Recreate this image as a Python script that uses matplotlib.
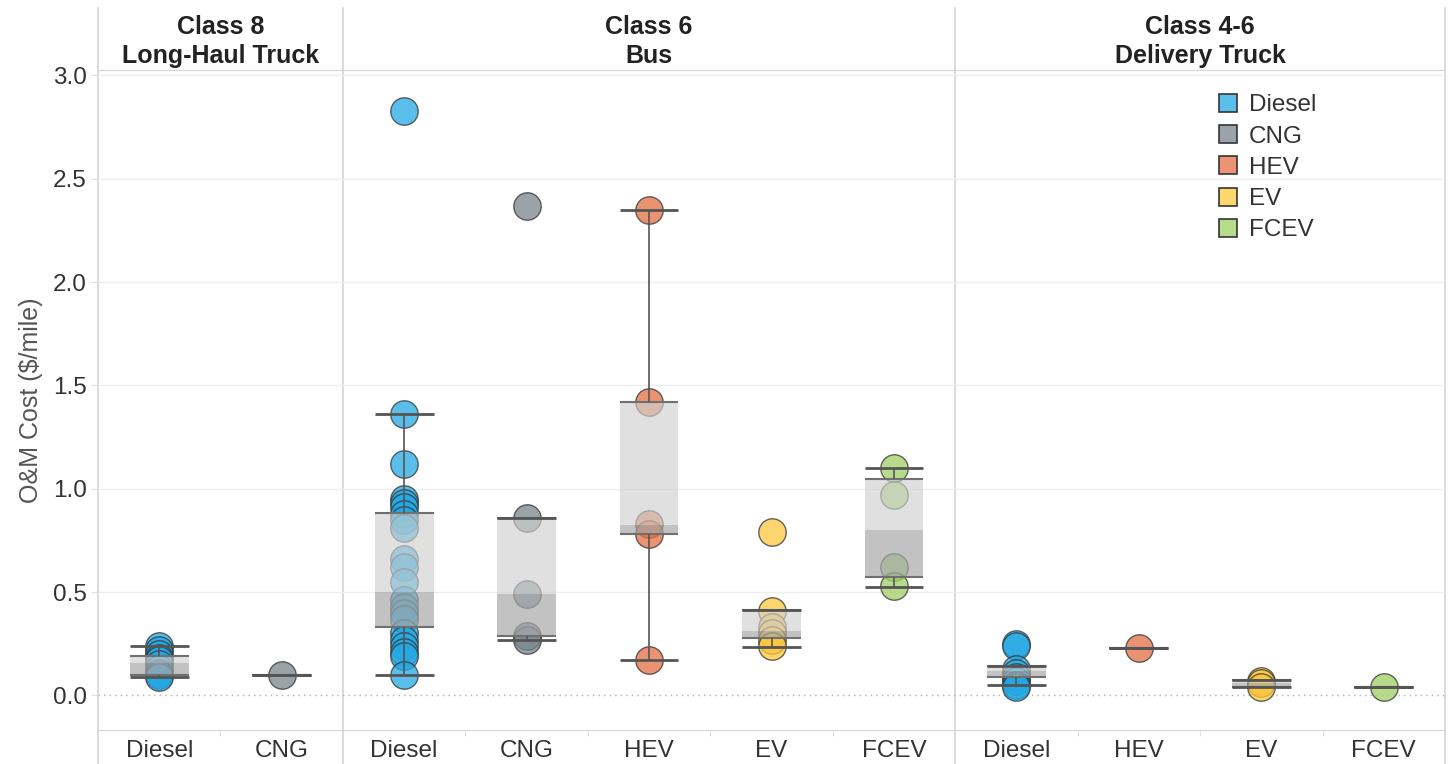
import matplotlib.pyplot as plt
from matplotlib.patches import Rectangle
from matplotlib.lines import Line2D
import numpy as np

plt.rcParams['font.family'] = ['Liberation Sans', 'DejaVu Sans']

# panels and their categories (left to right)
panels = ['Class 8\nLong-Haul Truck', 'Class 6\nBus', 'Class 4-6\nDelivery Truck']
panel_sizes = [2, 5, 4]
categories = ['Diesel', 'CNG',
              'Diesel', 'CNG', 'HEV', 'EV', 'FCEV',
              'Diesel', 'HEV', 'EV', 'FCEV']

# O&M cost ($/mile) of each vehicle
c8_diesel = [0.24, 0.22, 0.20, 0.18, 0.17, 0.15, 0.13, 0.11, 0.10, 0.09]
c8_cng = [0.10]
bus_diesel = [2.83, 1.36, 1.12, 0.95, 0.93, 0.91, 0.88, 0.85, 0.81, 0.66, 0.62,
              0.55, 0.46, 0.43, 0.40, 0.37, 0.30, 0.27, 0.24, 0.21, 0.19, 0.10]
bus_cng = [2.37, 0.86, 0.49, 0.29, 0.27]
bus_hev = [2.35, 1.42, 0.83, 0.78, 0.17]
bus_ev = [0.79, 0.41, 0.33, 0.30, 0.27, 0.24]
bus_fcev = [1.10, 0.97, 0.62, 0.53]
dt_diesel = [0.25, 0.24, 0.13, 0.11, 0.09, 0.07, 0.05, 0.04]
dt_hev = [0.23]
dt_ev = [0.07, 0.06, 0.04]
dt_fcev = [0.04]

series = [c8_diesel, c8_cng, bus_diesel, bus_cng, bus_hev, bus_ev, bus_fcev,
          dt_diesel, dt_hev, dt_ev, dt_fcev]

# box plot stats as drawn in the chart
box_lo = [0.09, 0.10, 0.10, 0.27, 0.17, 0.235, 0.525, 0.05, 0.23, 0.04, 0.04]
box_q1 = [0.10, 0.10, 0.33, 0.29, 0.78, 0.28, 0.575, 0.09, 0.23, 0.04, 0.04]
box_med = [0.155, 0.10, 0.50, 0.49, 0.825, 0.31, 0.80, 0.118, 0.23, 0.06, 0.04]
box_q3 = [0.19, 0.10, 0.885, 0.86, 1.42, 0.415, 1.045, 0.143, 0.23, 0.075, 0.04]
box_hi = [0.24, 0.10, 1.36, 0.86, 2.35, 0.415, 1.10, 0.143, 0.23, 0.075, 0.04]

fuel_colors = {'Diesel': '#23A8E4', 'CNG': '#78848B', 'HEV': '#E46F44',
               'EV': '#FCC83D', 'FCEV': '#9FD065'}
legend_colors = {'Diesel': '#5ABEEB', 'CNG': '#9AA3A8', 'HEV': '#EB9373',
                 'EV': '#FDD66E', 'FCEV': '#B7DC8C'}

fig = plt.figure(figsize=(14.5, 7.64), dpi=100)
ax = fig.add_axes([98 / 1450, 34 / 764, 1347 / 1450, 660 / 764])
ax.set_xlim(-0.5, 10.5)
ax.set_ylim(-0.167, 3.026)

line_col = '#d4d4d4'
for s in ['left', 'right']:
    ax.spines[s].set_visible(False)
ax.spines['top'].set_color(line_col)
ax.spines['bottom'].set_color(line_col)

# full height borders and panel separators
edges = np.cumsum([0] + panel_sizes) - 0.5
for x in edges:
    ax.axvline(x, ymin=-0.052, ymax=1.094, color=line_col, lw=1.2, clip_on=False, zorder=0)

for y in np.arange(0.5, 3.01, 0.5):
    ax.axhline(y, color='#eeeeee', lw=1, zorder=0)
ax.axhline(0, color='#b0b0b0', lw=1, ls=(0, (1, 3)), zorder=0)

w = 0.48
for i, vals in enumerate(series):
    col = fuel_colors[categories[i]]
    ax.scatter([i] * len(vals), vals, s=390, color=col, alpha=0.75,
               edgecolors='#333333', linewidths=1, zorder=2)
    ax.add_patch(Rectangle((i - w / 2, box_q1[i]), w, box_med[i] - box_q1[i],
                           facecolor='#A8A8A8', alpha=0.7, lw=0, zorder=3))
    ax.add_patch(Rectangle((i - w / 2, box_med[i]), w, box_q3[i] - box_med[i],
                           facecolor='#D0D0D0', alpha=0.65, lw=0, zorder=3))
    ax.hlines([box_q1[i], box_q3[i]], i - w / 2, i + w / 2, color='#707070', lw=1.5, zorder=4)
    ax.vlines(i, box_q3[i], box_hi[i], color='#555555', lw=1.2, zorder=4)
    ax.vlines(i, box_lo[i], box_q1[i], color='#555555', lw=1.2, zorder=4)
    ax.hlines([box_lo[i], box_hi[i]], i - w / 2, i + w / 2, color='#555555', lw=2, zorder=4)

# panel headers
starts = np.cumsum([0] + panel_sizes)
for k, title in enumerate(panels):
    xc = (starts[k] + starts[k + 1] - 1) / 2
    ax.text(xc, 1.043, title, transform=ax.get_xaxis_transform(), ha='center', va='center',
            fontsize=18, fontweight='bold', color='#222222', linespacing=1.3)

ax.set_xticks(range(len(categories)))
ax.set_xticklabels(categories)
ax.set_xticks(np.arange(0.5, 10, 1), minor=True)
ax.tick_params(axis='x', which='major', length=0, pad=7, labelsize=17.5, labelcolor='#333333')
ax.tick_params(axis='x', which='minor', length=4, color='#dddddd')
ax.set_yticks(np.arange(0, 3.01, 0.5))
ax.set_yticklabels([f'{v:.1f}' for v in np.arange(0, 3.01, 0.5)])
ax.tick_params(axis='y', length=5, color='#dddddd', pad=3, labelsize=17.5, labelcolor='#333333')
ax.set_ylabel('O&M Cost ($/mile)', fontsize=18, color='#555555', labelpad=7)

handles = [Line2D([], [], marker='s', ls='', markersize=13, markerfacecolor=legend_colors[f],
                  markeredgecolor='#333333', markeredgewidth=1.2) for f in legend_colors]
ax.legend(handles, list(legend_colors), loc='upper left', bbox_to_anchor=(0.831, 0.963),
          frameon=False, fontsize=17.5, handlelength=0.9, handletextpad=0.4,
          labelspacing=0.38, borderpad=0, borderaxespad=0, labelcolor='#333333')

fig.savefig('out.png', dpi=100)
